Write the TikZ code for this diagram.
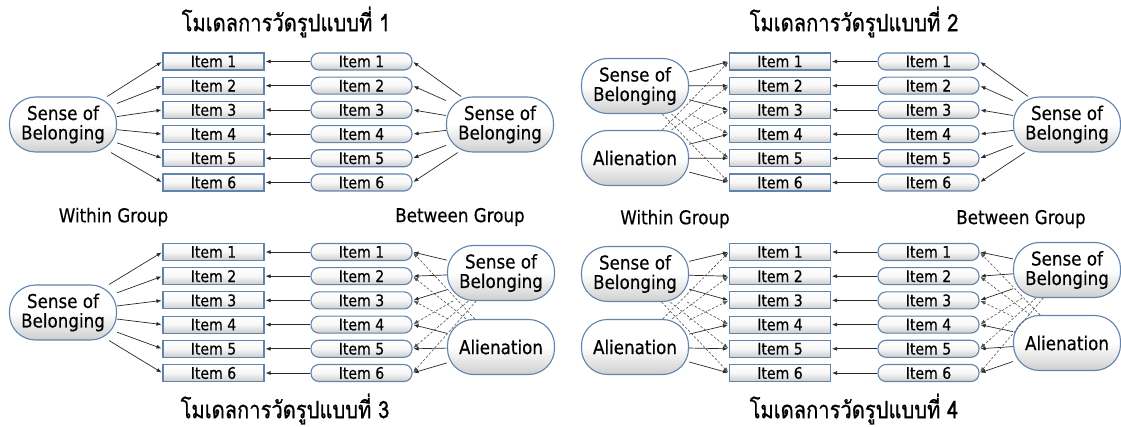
\documentclass[tikz,border=0pt]{standalone}
\usepackage{fontspec}
\setmainfont{DejaVu Sans}[FakeStretch=0.88,FakeBold=0.4]
\newfontfamily\thaifont[Script=Thai,FakeStretch=0.84,FakeBold=0.8]{Loma}
\usetikzlibrary{arrows.meta}
\definecolor{bordc}{RGB}{96,132,172}
\definecolor{linec}{RGB}{40,40,40}
\definecolor{dashc}{RGB}{80,80,80}
\newcommand{\itemrows}[4]{%
  \foreach \i in {1,...,6}{
    \pgfmathsetmacro\yy{#4+24.2*(\i-1)}
    \node[rectitem] (#1L\i) at (#2,\yy) {Item \i};
    \node[rounditem] (#1R\i) at (#3,\yy) {Item \i};
    \draw[arr] (#1R\i) -- (#1L\i);
  }}
\begin{document}
\begin{tikzpicture}[x=1pt,y=-1pt,
  rectitem/.style={draw=bordc, line width=1.1pt, top color=white, bottom color=gray!40, middle color=white!94!gray,
    minimum width=101pt, minimum height=17pt, inner sep=0pt, font=\fontsize{16}{16}\selectfont},
  rounditem/.style={rectitem, rounded corners=8pt},
  factor/.style={draw=bordc, line width=1.1pt, rounded corners=26pt, minimum width=107pt, minimum height=55pt,
    top color=white, bottom color=gray!38, middle color=white, align=center, inner sep=0pt,
    font=\fontsize{19}{19.5}\selectfont},
  arr/.style={draw=linec, line width=0.7pt, -{Latex[length=5pt,width=4pt]}, shorten >=1pt},
  darr/.style={arr, draw=dashc, dash pattern=on 2.5pt off 1.8pt, line width=0.6pt},
  grp/.style={font=\fontsize{19}{19}\selectfont},
  ttl/.style={font=\thaifont\fontsize{24}{24}\selectfont}
]
\useasboundingbox (0,0) rectangle (1121,427);

% titles and labels
\node[ttl] (t1) at (286,22) {โมเดลการวัดรูปแบบที่ 1};
\node[ttl] (t2) at (854,22) {โมเดลการวัดรูปแบบที่ 2};
\node[ttl] (t3) at (285,409) {โมเดลการวัดรูปแบบที่ 3};
\node[ttl] (t4) at (854,409) {โมเดลการวัดรูปแบบที่ 4};
\node[grp] (w3) at (113.5,217) {Within Group};
\node[grp] (b3) at (460,217) {Between Group};
\node[grp] (w4) at (675,219) {Within Group};
\node[grp] (b4) at (1021,219) {Between Group};

% item columns
\itemrows{a}{213.5}{361.5}{61.5}
\itemrows{b}{780}{928.5}{61.5}
\itemrows{c}{213.5}{361.5}{252}
\itemrows{d}{780}{928.5}{252}

% panel 1
\node[factor] (aF) at (63,124.5) {Sense of\\Belonging};
\node[factor] (aG) at (500,124.5) {Sense of\\Belonging};
\foreach \i in {1,...,6}{
  \draw[arr] (aF) -- (aL\i.west);
  \draw[arr] (aG) -- (aR\i.east);
}

% panel 2
\node[factor] (bF) at (635,86) {Sense of\\Belonging};
\node[factor] (bA) at (635,158) {Alienation};
\node[factor] (bG) at (1067,124.5) {Sense of\\Belonging};
\foreach \i in {1,2,3}{
  \draw[arr] (bF) -- (bL\i.west);
  \draw[darr] (bA) -- (bL\i.west);
}
\foreach \i in {4,5,6}{
  \draw[arr] (bA) -- (bL\i.west);
  \draw[darr] (bF) -- (bL\i.west);
}
\foreach \i in {1,...,6}{
  \draw[arr] (bG) -- (bR\i.east);
}

% panel 3
\node[factor] (cF) at (63,312.5) {Sense of\\Belonging};
\node[factor] (cG) at (501,273) {Sense of\\Belonging};
\node[factor] (cH) at (501,347) {Alienation};
\foreach \i in {1,...,6}{
  \draw[arr] (cF) -- (cL\i.west);
}
\foreach \i in {1,2,3}{
  \draw[arr] (cG) -- (cR\i.east);
  \draw[darr] (cH) -- (cR\i.east);
}
\foreach \i in {4,5,6}{
  \draw[arr] (cH) -- (cR\i.east);
  \draw[darr] (cG) -- (cR\i.east);
}

% panel 4
\node[factor] (dF) at (635,274) {Sense of\\Belonging};
\node[factor] (dA) at (635,347) {Alienation};
\node[factor] (dG) at (1067,270) {Sense of\\Belonging};
\node[factor] (dH) at (1067,343) {Alienation};
\foreach \i in {1,2,3}{
  \draw[arr] (dF) -- (dL\i.west);
  \draw[darr] (dA) -- (dL\i.west);
  \draw[arr] (dG) -- (dR\i.east);
  \draw[darr] (dH) -- (dR\i.east);
}
\foreach \i in {4,5,6}{
  \draw[arr] (dA) -- (dL\i.west);
  \draw[darr] (dF) -- (dL\i.west);
  \draw[arr] (dH) -- (dR\i.east);
  \draw[darr] (dG) -- (dR\i.east);
}
\end{tikzpicture}
\end{document}
